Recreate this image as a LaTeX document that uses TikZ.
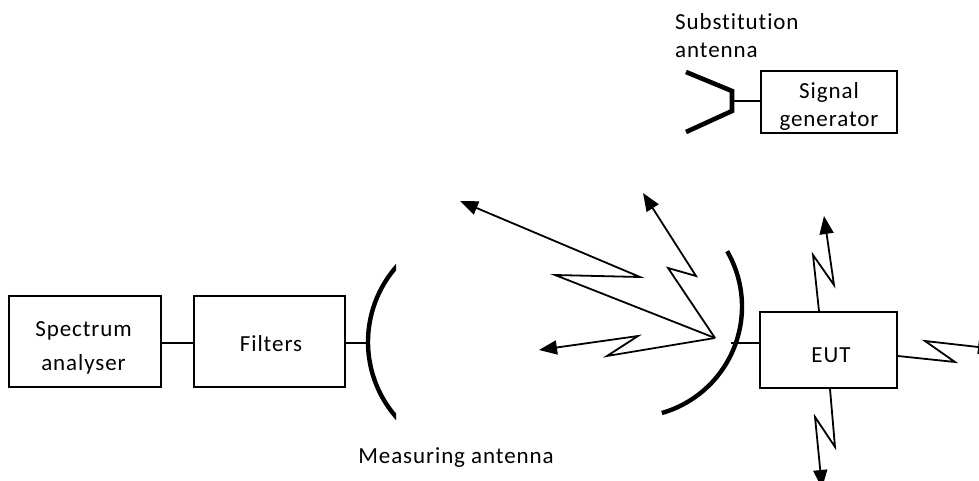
\documentclass[tikz,border=0pt]{standalone}
\usepackage{fontspec}
\setmainfont[LetterSpace=4,Ligatures={NoCommon,NoRequired,NoContextual},RawFeature={-liga;-dlig;-clig}]{Carlito}
\usetikzlibrary{arrows.meta}
\tikzset{
  block/.style={draw=black,line width=1.8pt,fill=white,inner sep=0pt,align=center,font=\fontsize{23}{28}\selectfont},
  label/.style={inner sep=0pt,font=\fontsize{23}{28}\selectfont},
  wire/.style={draw=black,line width=1.7pt},
  dish/.style={draw=black,line width=4.4pt},
  ray/.style={draw=black,line width=1.8pt,line join=miter,-{Triangle[length=18pt,width=14pt]}}
}
\begin{document}
\begin{tikzpicture}[x=1pt,y=-1pt]
\useasboundingbox (0,0) rectangle (979,481);
\clip (0,0) rectangle (979,481);
% blocks
\node[block,minimum width=152pt,minimum height=91pt,font=\fontsize{23}{34}\selectfont] (sa) at (85,341.5) {\rule{0pt}{28pt}\hspace*{-3pt}Spectrum\\\hspace*{-3pt}analyser};
\node[block,minimum width=151pt,minimum height=91pt] (fi) at (269.5,341.5) {\rule{0pt}{20pt}\hspace*{3pt}Filters};
\node[block,minimum width=137pt,minimum height=76pt] (eut) at (828.5,350) {\rule{0pt}{25pt}\hspace*{5pt}EUT};
\node[block,minimum width=136pt,minimum height=62pt] (sg) at (829,102) {};
\node[label,align=center] (sgtext) at (829,106) {Signal\\generator};
% labels
\node[label,align=left,anchor=west] (sublabel) at (675,36) {Substitution\\antenna};
\node[label] (measlabel) at (456,458) {Measuring antenna};
% dishes
\begin{scope}
\clip (300,240) rectangle (396,440);
\draw[dish] plot[smooth,samples=40,domain=130:230] ({482+114*cos(\x)},{342+114*sin(\x)});
\end{scope}
\draw[dish] plot[smooth,samples=40,domain=-30:74] ({631.3+110.7*cos(\x)},{306.6+110.7*sin(\x)});
\coordinate (leftdish) at (368,343);
\coordinate (rightdish) at (731,343);
% wires
\draw[wire] (sa.east |- 0,343) -- (fi.west |- 0,343);
\draw[wire] (fi.east |- 0,343) -- (leftdish);
\draw[wire] (rightdish) -- (eut.west |- rightdish);
% horn
\coordinate (hornA) at (686,72);
\coordinate (hornB) at (732,91);
\coordinate (hornC) at (732,111);
\coordinate (hornD) at (686,132);
\draw[dish,line join=miter,line width=4.6pt] (hornA) -- (hornB) -- (hornC) -- (hornD);
\coordinate (hornfeed) at (732,101);
\draw[wire] (hornfeed) -- (sg.west |- hornfeed);
% rays from the receiving dish
\coordinate (feed) at (715,338);
\coordinate (a1) at (555,275); \coordinate (a2) at (640,277); \coordinate (a3) at (460,201);
\coordinate (b1) at (668,268); \coordinate (b2) at (696,276); \coordinate (b3) at (643,193);
\coordinate (c1) at (607,356); \coordinate (c2) at (638,336); \coordinate (c3) at (539,350);
\draw[ray] (feed) -- (a1) -- (a2) -- (a3);
\draw[ray] (feed) -- (b1) -- (b2) -- (b3);
\draw[ray] (feed) -- (c1) -- (c2) -- (c3);
% rays from the EUT
\coordinate (d1) at (813,255); \coordinate (d2) at (834,285); \coordinate (d3) at (824,216);
\coordinate (e1) at (955,362); \coordinate (e2) at (925,341); \coordinate (e3) at (996,349);
\coordinate (f1) at (835,447); \coordinate (f2) at (815,417); \coordinate (f3) at (822,488);
\draw[ray] ([xshift=-9.5pt]eut.north) -- (d1) -- (d2) -- (d3);
\draw[ray] ([yshift=-6pt]eut.east) -- (e1) -- (e2) -- (e3);
\draw[ray] ([xshift=1.5pt]eut.south) -- (f1) -- (f2) -- (f3);
\end{tikzpicture}
\end{document}
